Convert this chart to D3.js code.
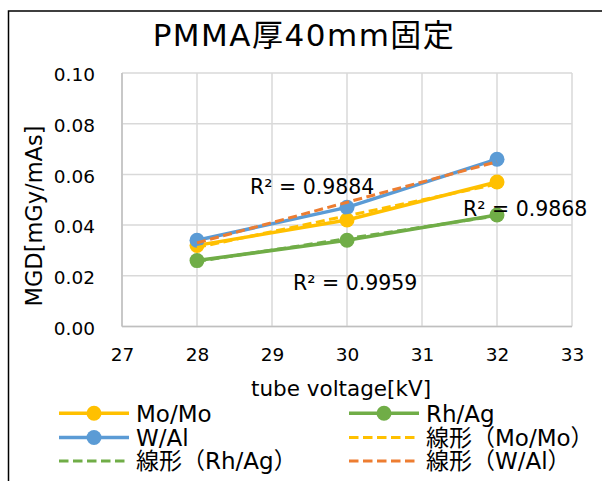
<!DOCTYPE html>
<html>
<head>
<meta charset="utf-8">
<script src="https://cdn.jsdelivr.net/npm/d3@7"></script>
<style>
  html, body { margin: 0; padding: 0; background: #fff; }
  svg { display: block; }
  text { font-family: "DejaVu Sans", "Noto Sans CJK JP", sans-serif; fill: #000; }
</style>
</head>
<body>
<svg id="chart" width="602" height="481"></svg>
<script>
// Tube voltage [kV] for each measurement
const voltages = [28, 30, 32];
// MGD per mAs [mGy/mAs] by target/filter combination
const moMo = [0.032, 0.042, 0.057];
const rhAg = [0.026, 0.034, 0.044];
const wAl  = [0.034, 0.047, 0.066];

const seriesNames = ["Mo/Mo", "Rh/Ag", "W/Al"];
const xTicks = [27, 28, 29, 30, 31, 32, 33];
const yTicks = [0, 0.02, 0.04, 0.06, 0.08, 0.10];

const titleText = "PMMA厚40mm固定";
const xTitle = "tube voltage[kV]";
const yTitle = "MGD[mGy/mAs]";

const colors = { "Mo/Mo": "#FFC000", "Rh/Ag": "#70AD47", "W/Al": "#5B9BD5" };
const trendColors = { "Mo/Mo": "#FFC000", "Rh/Ag": "#70AD47", "W/Al": "#ED7D31" };

const series = [
  { name: seriesNames[0], values: moMo },
  { name: seriesNames[1], values: rhAg },
  { name: seriesNames[2], values: wAl }
];

// Least-squares line and coefficient of determination
function linearFit(xs, ys) {
  const mx = d3.mean(xs), my = d3.mean(ys);
  let sxy = 0, sxx = 0, syy = 0;
  xs.forEach((x, i) => {
    sxy += (x - mx) * (ys[i] - my);
    sxx += (x - mx) ** 2;
    syy += (ys[i] - my) ** 2;
  });
  const slope = sxy / sxx;
  const intercept = my - slope * mx;
  const r2 = (sxy * sxy) / (sxx * syy);
  return { slope, intercept, r2 };
}

const svg = d3.select("#chart");

// Chart frame
svg.append("rect")
  .attr("x", 8.5).attr("y", 11)
  .attr("width", 700).attr("height", 600)
  .attr("fill", "#fff")
  .attr("stroke", "#000").attr("stroke-width", 1.5);

const x = d3.scaleLinear().domain([27, 33]).range([122, 572]);
const y = d3.scaleLinear().domain([0, 0.10]).range([326.5, 73]);

// Gridlines
const grid = svg.append("g");
grid.selectAll("line.v").data(xTicks).join("line")
  .attr("x1", d => x(d)).attr("x2", d => x(d))
  .attr("y1", y(0)).attr("y2", y(0.10))
  .attr("stroke", "#d9d9d9").attr("stroke-width", 1.5);
grid.selectAll("line.h").data(yTicks).join("line")
  .attr("x1", x(27)).attr("x2", x(33))
  .attr("y1", d => y(d)).attr("y2", d => y(d))
  .attr("stroke", "#d9d9d9").attr("stroke-width", 1.5);
// Axis lines
grid.append("line")
  .attr("x1", x(27)).attr("x2", x(27)).attr("y1", y(0)).attr("y2", y(0.10))
  .attr("stroke", "#bfbfbf").attr("stroke-width", 1.5);
grid.append("line")
  .attr("x1", x(27)).attr("x2", x(33)).attr("y1", y(0)).attr("y2", y(0))
  .attr("stroke", "#bfbfbf").attr("stroke-width", 1.5);

// Axes (labels only)
const yAxis = d3.axisLeft(y).tickValues(yTicks).tickFormat(d3.format(".2f")).tickSize(0).tickPadding(0);
const gy = svg.append("g").attr("transform", "translate(95,0)").call(yAxis);
gy.select(".domain").remove();
gy.selectAll("text").attr("font-size", 18.5).attr("dy", "0.42em")
  .style("font-family", "'DejaVu Sans', sans-serif").attr("fill", "#000");

const xAxis = d3.axisBottom(x).tickValues(xTicks).tickFormat(d3.format("d")).tickSize(0).tickPadding(0);
const gx = svg.append("g").attr("transform", "translate(0,354)").call(xAxis);
gx.select(".domain").remove();
gx.selectAll("text").attr("font-size", 18.5).attr("dy", "0.36em")
  .style("font-family", "'DejaVu Sans', sans-serif").attr("fill", "#000");

// Series lines and markers
const line = d3.line().x((d, i) => x(voltages[i])).y(d => y(d));
series.forEach(s => {
  svg.append("path")
    .attr("d", line(s.values))
    .attr("fill", "none")
    .attr("stroke", colors[s.name])
    .attr("stroke-width", 3.5)
    .attr("stroke-linejoin", "round")
    .attr("stroke-linecap", "round");
});
series.forEach(s => {
  svg.append("g").selectAll("circle").data(s.values).join("circle")
    .attr("cx", (d, i) => x(voltages[i]))
    .attr("cy", d => y(d))
    .attr("r", 7.5)
    .attr("fill", colors[s.name]);
});

// Linear trendlines
const fits = {};
series.forEach(s => {
  const f = linearFit(voltages, s.values);
  fits[s.name] = f;
  const x0 = d3.min(voltages), x1 = d3.max(voltages);
  svg.append("line")
    .attr("x1", x(x0)).attr("y1", y(f.intercept + f.slope * x0))
    .attr("x2", x(x1)).attr("y2", y(f.intercept + f.slope * x1))
    .attr("stroke", trendColors[s.name])
    .attr("stroke-width", 3)
    .attr("stroke-dasharray", "9,4.5");
});

// R² labels
const r2Pos = { "W/Al": [250, 194], "Mo/Mo": [463, 216], "Rh/Ag": [293, 290] };
seriesNames.forEach(n => {
  svg.append("text")
    .attr("x", r2Pos[n][0]).attr("y", r2Pos[n][1])
    .attr("font-size", 20.5)
    .text("R² = " + d3.format(".4f")(fits[n].r2));
});

// Title
svg.append("text")
  .attr("x", 304).attr("y", 46)
  .attr("text-anchor", "middle")
  .attr("font-size", 31)
  .attr("letter-spacing", 1.5)
  .text(titleText);

// Axis titles
svg.append("text")
  .attr("transform", "translate(41.5,216) rotate(-90)")
  .attr("text-anchor", "middle")
  .attr("font-size", 22.5)
  .text(yTitle);

svg.append("text")
  .attr("x", 341).attr("y", 396)
  .attr("text-anchor", "middle")
  .attr("font-size", 21.5)
  .text(xTitle);

// Legend (two columns, row-major)
const legendItems = [
  { label: "Mo/Mo", color: colors["Mo/Mo"], dashed: false },
  { label: "Rh/Ag", color: colors["Rh/Ag"], dashed: false },
  { label: "W/Al", color: colors["W/Al"], dashed: false },
  { label: "線形（Mo/Mo）", color: trendColors["Mo/Mo"], dashed: true },
  { label: "線形（Rh/Ag）", color: trendColors["Rh/Ag"], dashed: true },
  { label: "線形（W/Al）", color: trendColors["W/Al"], dashed: true }
];
const colX = [59, 349];
const rowY = [413.3, 437.5, 461];
const legend = svg.append("g");
legendItems.forEach((it, i) => {
  const cx = colX[i % 2], cy = rowY[Math.floor(i / 2)];
  const g = legend.append("g");
  g.append("line")
    .attr("x1", cx).attr("x2", cx + 70)
    .attr("y1", cy).attr("y2", cy)
    .attr("stroke", it.color)
    .attr("stroke-width", it.dashed ? 3 : 3.5)
    .attr("stroke-dasharray", it.dashed ? "9.5,4.5" : null);
  if (!it.dashed) {
    g.append("circle").attr("cx", cx + 35).attr("cy", cy).attr("r", 7.5).attr("fill", it.color);
  }
  g.append("text")
    .attr("x", cx + 77).attr("y", cy + 8.4)
    .attr("font-size", 23)
    .text(it.label);
});
</script>
</body>
</html>
